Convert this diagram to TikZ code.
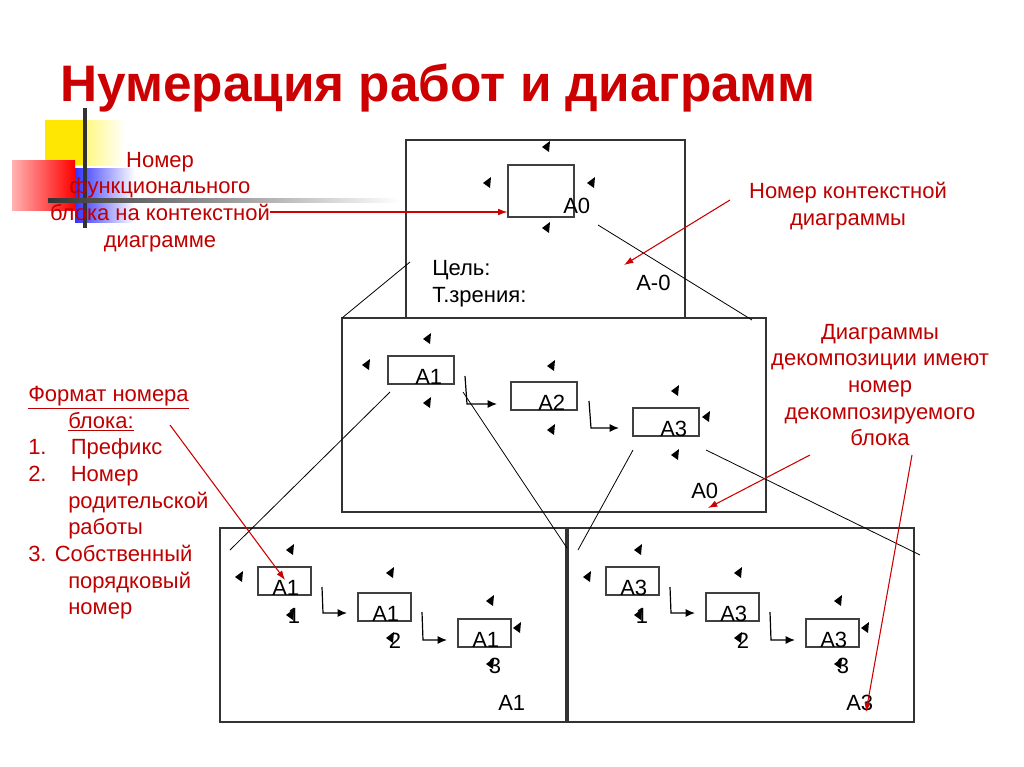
\documentclass[tikz,border=0pt]{standalone}
\usepackage{fontspec}
\setmainfont{Liberation Sans}
\usetikzlibrary{arrows.meta}
\begin{document}
\begin{tikzpicture}[x=0.75pt,y=-0.75pt,
  frame/.style={draw=black!80,line width=0.8pt},
  ibox/.style={draw=black!75,line width=0.8pt},
  lab/.style={font=\fontsize{16.5}{18}\selectfont,inner sep=0pt},
  rtxt/.style={font=\fontsize{16.5}{20}\selectfont,text=red!75!black,align=center,inner sep=0pt},
  redarr/.style={draw=red!80!black,line width=0.8pt,-{Latex[length=7pt,width=5pt]}},
  elb/.style={draw=black,line width=0.9pt,-{Latex[length=7pt,width=6pt]}},
  thin/.style={draw=black,line width=0.6pt}]
\useasboundingbox (0,0) rectangle (1024,767);
% decoration
\shade[left color=yellow!90!orange,right color=white] (45,120) rectangle (125,165);
\fill[yellow!90!orange] (45,120) rectangle (85,165);
\shade[left color=blue!80,right color=white] (75,168) rectangle (135,222);
\shade[left color=red!30,right color=red] (12,160) rectangle (75,210);
\draw[line width=2.5pt,black!80] (85,108) -- (85,228);
\shade[left color=black!80,right color=white] (48,198) rectangle (400,202);
% title
\node[anchor=west,inner sep=0pt,text=red!80!black,font=\fontsize{38.5}{42}\selectfont\bfseries] (title) at (60,88) {Нумерация работ и диаграмм};
% top frame
\draw[frame] (406,320) -- (406,140) -- (685,140) -- (685,320);
\node[ibox,minimum width=66*0.75pt,minimum height=52*0.75pt,inner sep=0pt] (a0) at (541,191) {};
\node[lab,anchor=west] at (563,206) {A0};
\node[lab,anchor=west] (cel) at (432,270) {Цель:};
\node[lab,anchor=west] (tz) at (432,297) {Т.зрения:};
\node[lab,anchor=west] (am0) at (636,283) {A-0};
% middle frame
\draw[frame,fill=white] (342,318) rectangle (766,512);
\draw[thin] (410,262) -- (342,318);
\draw[thin] (598,225) -- (752,320);
\foreach \n/\x/\y in {m1/421/370,m2/544/396,m3/666/422}{
  \node[ibox,minimum width=66*0.75pt,minimum height=28*0.75pt,inner sep=0pt] (\n) at (\x,\y) {};}
\node[lab,anchor=west] at (415,377) {A1};
\node[lab,anchor=west] at (538,403) {A2};
\node[lab,anchor=west] at (660,429) {A3};
\node[lab,anchor=west] at (691,491) {A0};
\draw[elb] (465,376) -- (467,404) -- (497,404);
\draw[elb] (589,401) -- (591,428) -- (619,428);
% bottom frames
\draw[frame] (220,528) rectangle (566,722);
\draw[frame] (568,528) rectangle (914,722);
\draw[thin] (390,392) -- (230,550);
\draw[thin] (463,392) -- (567,548);
\draw[thin] (633,450) -- (578,550);
\draw[thin] (706,450) -- (920,555);
\foreach \dx/\p in {0/A1,348/A3}{
  \begin{scope}[xshift=\dx*0.75pt]
  \node[ibox,minimum width=53*0.75pt,minimum height=28*0.75pt,inner sep=0pt] at (284.5,581) {};
  \node[ibox,minimum width=53*0.75pt,minimum height=28*0.75pt,inner sep=0pt] at (384.5,607) {};
  \node[ibox,minimum width=53*0.75pt,minimum height=28*0.75pt,inner sep=0pt] at (484.5,633) {};
  \node[lab,anchor=west] at (272,588) {\p};
  \node[lab,anchor=west] at (372,614) {\p};
  \node[lab,anchor=west] at (472,640) {\p};
  \node[lab] at (294,616) {1};
  \node[lab] at (395,641) {2};
  \node[lab] at (495,666) {3};
  \node[lab,anchor=west] at (498,703) {\p};
  \draw[elb] (322,587) -- (323,613) -- (347,613);
  \draw[elb] (422,612) -- (423,640) -- (447,640);
  \foreach \x/\y in {291/550,240/577,291/615,391/573,391/638,491/601,518/628,491/664}{
    \fill (\x-5,\y) -- (\x+3,\y-6) -- (\x+2,\y+5) -- cycle;}
  \end{scope}}
% markers top and middle
\foreach \x/\y in {547/147,488/183,592/183,547/228,428/339,367/365,428/403,552/366,552/430,676/391,707/417,676/455}{
  \fill (\x-5,\y) -- (\x+3,\y-6) -- (\x+2,\y+5) -- cycle;}
% red texts
\node[rtxt] (t1) at (160,202) {Номер\\функционального\\блока на контекстной\\диаграмме};
\node[rtxt] (t2) at (848,206) {Номер контекстной\\диаграммы};
\node[rtxt] (t3) at (880,385) {Диаграммы\\декомпозиции имеют\\номер\\декомпозируемого\\блока};
\node[rtxt,align=left,anchor=north west] (t4) at (28,386) {\underline{Формат номера}\\\hspace*{40\dimexpr0.75pt}\underline{блока:}\\1.\hspace{1.1em}Префикс\\2.\hspace{1.1em}Номер\\\hspace*{40\dimexpr0.75pt}родительской\\\hspace*{40\dimexpr0.75pt}работы\\3. Собственный\\\hspace*{40\dimexpr0.75pt}порядковый\\\hspace*{40\dimexpr0.75pt}номер};
% red arrows
\draw[redarr] (270,212) -- (a0.west|-0,212);
\draw[redarr] (730,200) -- (624,265);
\draw[redarr] (810,455) -- (708,508);
\draw[redarr] (912,455) -- (866,712);
\draw[redarr] (170,425) -- (285,580);
\end{tikzpicture}
\end{document}
